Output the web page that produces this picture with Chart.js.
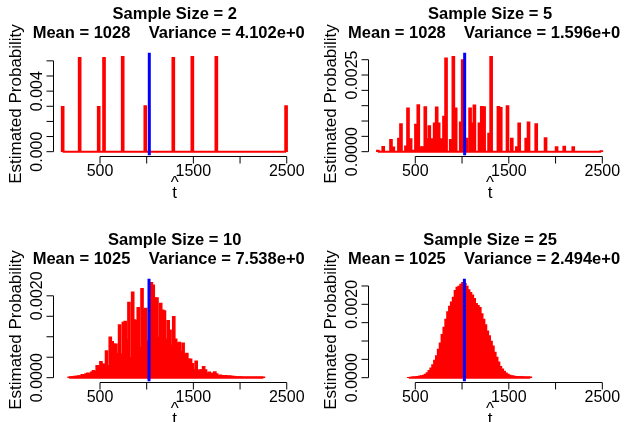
<!DOCTYPE html>
<html><head><meta charset="utf-8">
<script src="https://cdn.jsdelivr.net/npm/chart.js@4.4.1/dist/chart.umd.min.js"></script>
<style>
html,body{margin:0;padding:0;background:#fff;overflow:hidden;}
#wrap{position:relative;width:626px;height:422px;overflow:hidden;background:#fff;}
.p{position:absolute;width:313px;height:211px;}
canvas{display:block;}
</style></head><body>
<div id="wrap">
<div class="p" style="left:0;top:0"><canvas id="c1" width="313" height="211"></canvas></div>
<div class="p" style="left:313px;top:0"><canvas id="c2" width="313" height="211"></canvas></div>
<div class="p" style="left:0;top:226px"><canvas id="c3" width="313" height="211"></canvas></div>
<div class="p" style="left:313px;top:226px"><canvas id="c4" width="313" height="211"></canvas></div>
</div>
<script>
// ---------------- data ----------------
const sampleSizes = [2, 5, 10, 25];
const meanValues = [1028, 1028, 1025, 1025];
const meanTexts = ["1028", "1028", "1025", "1025"];
const varianceTexts = ["4.102e+0", "1.596e+0", "7.538e+0", "2.494e+0"];

const xTickValues = [500, 1000, 1500, 2000, 2500];
const xTickLabels = ["500", "", "1500", "", "2500"];

const yTicks1 = [0, 0.001, 0.002, 0.003, 0.004, 0.005, 0.006];
const yLabels1 = ["0.000", "", "", "", "0.004", "", ""];
const yTicks2 = [0, 0.0005, 0.001, 0.0015, 0.002, 0.0025, 0.003];
const yLabels2 = ["0.0000", "", "", "", "", "0.0025", ""];
const yTicks3 = [0, 0.0005, 0.001, 0.0015, 0.002];
const yLabels3 = ["0.0000", "", "", "", "0.0020"];
const yTicks4 = [0, 0.0005, 0.001, 0.0015, 0.002, 0.0025];
const yLabels4 = ["0.0000", "", "", "", "0.0020", ""];

// Sample size 2
const tHat2 = [100, 282, 486, 543, 743, 985, 1285, 1489, 1746, 2493];
const prob2 = [0.00299, 0.00624, 0.00299, 0.00624, 0.00630, 0.00304, 0.00624, 0.00630, 0.00630, 0.00304];

// Sample size 5
const tHat5 = [100, 157, 240, 265, 325, 347, 400, 422, 450, 482, 507, 532, 561, 586, 607, 629, 650, 682, 707, 729, 750, 782, 807, 829, 879, 907, 932, 986, 1007, 1050, 1086, 1115, 1132, 1186, 1211, 1236, 1289, 1311, 1389, 1414, 1486, 1532, 1586, 1611, 1686, 1711, 1793, 1893, 2011, 2093, 2189, 2489];
const prob5 = [0.00005, 0.000175, 0.0004, 0.00016, 0.00044, 0.00092, 0.00019, 0.00143, 0.00043, 0.00005, 0.0009, 0.00154, 0.00017, 0.00017, 0.00147, 0.00043, 0.00085, 0.00043, 0.00094, 0.00146, 0.00094, 0.00043, 0.00116, 0.00306, 0.0004, 0.00311, 0.00143, 0.00097, 0.0030, 0.00044, 0.00143, 0.00094, 0.00153, 0.00094, 0.00148, 0.00147, 0.00061, 0.00311, 0.00148, 0.00145, 0.0015, 0.00044, 0.00017, 0.00094, 0.00044, 0.00097, 0.00092, 0.00046, 0.00017, 0.00018, 0.00017, 0.00004];

// Sample size 10
const tHat10 = [170, 190, 210, 230, 250, 270, 290, 310, 330, 350, 370, 390, 410, 430, 450, 470, 490,
  510, 530, 550, 570, 590, 610, 630, 650, 670, 690, 710, 730, 750, 770, 790, 810, 830, 850, 870, 890, 910, 930, 950, 970, 990,
  1010, 1030, 1050, 1070, 1090, 1110, 1130, 1150, 1170, 1190, 1210, 1230, 1250, 1270, 1290, 1310, 1330, 1350, 1370, 1390,
  1410, 1430, 1450, 1470, 1490, 1510, 1530, 1550, 1570, 1590, 1610, 1630, 1650, 1670, 1690, 1710, 1730, 1750, 1770, 1790,
  1810, 1830, 1850, 1870, 1890, 1910, 1930, 1950, 1970, 1990, 2010, 2030, 2050, 2070, 2090, 2110, 2130, 2150, 2170, 2190,
  2210, 2230, 2250];
const prob10 = [0.00002, 0.00003, 0.00003, 0.00004, 0.00004, 0.00005, 0.00005, 0.00008, 0.00007, 0.0001, 0.00012, 0.0001, 0.00014, 0.00018, 0.00016, 0.0003, 0.00028,
  0.0004, 0.00034, 0.00033, 0.00066, 0.0003, 0.001, 0.00089, 0.00083, 0.00083, 0.0006, 0.0013, 0.00058, 0.00136, 0.00138, 0.00093, 0.00185, 0.0005, 0.0021, 0.00142, 0.0014, 0.00172, 0.00074, 0.00218, 0.00167, 0.0017,
  0.0009, 0.0008, 0.00233, 0.00227, 0.00196, 0.00196, 0.001, 0.00182, 0.00166, 0.00164, 0.00095, 0.0014, 0.00117, 0.0008, 0.0015, 0.00095, 0.00085, 0.00087, 0.00065, 0.00085,
  0.00057, 0.0006, 0.00046, 0.00046, 0.00035, 0.0002, 0.00041, 0.00016, 0.0002, 0.0002, 0.00028, 0.0002, 0.00012, 0.00014, 0.0001, 0.00012, 0.00015, 0.0001, 0.00006, 0.00007,
  0.00006, 0.00005, 0.00006, 0.00004, 0.00005, 0.00004, 0.00004, 0.00003, 0.00003, 0.00003, 0.00003, 0.00002, 0.00002, 0.00002, 0.00002, 0.00002, 0.00002, 0.00002, 0.00002, 0.00002,
  0.00002, 0.00002, 0.00002];

// Sample size 25
const tHat25 = [430, 450, 470, 490, 510, 530, 550, 570, 590, 610, 630, 650, 670, 690, 710, 730, 750, 770, 790, 810, 830, 850, 870, 890, 910, 930, 950, 970, 990,
  1010, 1030, 1050, 1070, 1090, 1110, 1130, 1150, 1170, 1190, 1210, 1230, 1250, 1270, 1290, 1310, 1330, 1350, 1370, 1390,
  1410, 1430, 1450, 1470, 1490, 1510, 1530, 1550, 1570, 1590, 1610, 1630, 1650, 1670, 1690, 1710, 1730];
const prob25 = [0.00001, 0.00001, 0.00002, 0.00002, 0.00003, 0.00004, 0.00005, 0.00006, 0.00007, 0.0001, 0.00014, 0.0002, 0.00027, 0.00036, 0.00048, 0.0006, 0.00078, 0.00095, 0.00118, 0.00138, 0.0016, 0.0018, 0.00195, 0.00207, 0.0022, 0.00238, 0.00247, 0.0025, 0.00255,
  0.0026, 0.00257, 0.0025, 0.0024, 0.00233, 0.00226, 0.00216, 0.00203, 0.00197, 0.00192, 0.00175, 0.0016, 0.00145, 0.00128, 0.00115, 0.001, 0.00087, 0.0007, 0.00056, 0.00043,
  0.00031, 0.00024, 0.00018, 0.00013, 0.0001, 0.00007, 0.00006, 0.00005, 0.00004, 0.00004, 0.00003, 0.00003, 0.00003, 0.00002, 0.00002, 0.00002, 0.00002];

// ---------------- drawing ----------------
const FONT = '"Liberation Sans", Arial, Helvetica, sans-serif';
const RED = '#FF0000', BLUE = '#0000FF';

function rDecor(idx, yTicks, yLabels) {
  return {
    id: 'rdecor' + idx,
    afterDraw(chart) {
      const ctx = chart.ctx, a = chart.chartArea, xs = chart.scales.x, ys = chart.scales.y;
      const cx = (a.left + a.right) / 2, cy = (a.top + a.bottom) / 2;
      ctx.save();
      ctx.fillStyle = '#000'; ctx.strokeStyle = '#000'; ctx.lineWidth = 1;
      // x axis
      const ay = Math.round(a.bottom) + 0.5;
      const xp = xTickValues.map(v => xs.getPixelForValue(v));
      ctx.beginPath();
      ctx.moveTo(xp[0], ay); ctx.lineTo(xp[xp.length - 1], ay);
      xp.forEach(px => { ctx.moveTo(px, ay); ctx.lineTo(px, ay + 7); });
      ctx.stroke();
      ctx.font = '16px ' + FONT; ctx.textAlign = 'center'; ctx.textBaseline = 'alphabetic';
      xTickLabels.forEach((t, i) => { if (t) ctx.fillText(t, xp[i], ay + 19); });
      // x label (t hat)
      ctx.font = '17px ' + FONT;
      ctx.fillText('^', cx, ay + 31.5);
      ctx.fillText('t', cx, ay + 41.5);
      // y axis
      const ax = Math.round(a.left) - 0.5;
      const yp = yTicks.map(v => ys.getPixelForValue(v));
      ctx.beginPath();
      ctx.moveTo(ax, yp[0]); ctx.lineTo(ax, yp[yp.length - 1]);
      yp.forEach(py => { ctx.moveTo(ax, py); ctx.lineTo(ax - 7, py); });
      ctx.stroke();
      ctx.font = '16px ' + FONT;
      yLabels.forEach((t, i) => {
        if (!t) return;
        ctx.save(); ctx.translate(ax - 11.5, yp[i]); ctx.rotate(-Math.PI / 2);
        ctx.textAlign = 'center'; ctx.fillText(t, 0, 0); ctx.restore();
      });
      // y label
      ctx.font = '17px ' + FONT;
      ctx.save(); ctx.translate(ax - 32.5, cy); ctx.rotate(-Math.PI / 2);
      ctx.textAlign = 'center'; ctx.fillText('Estimated Probability', 0, 0); ctx.restore();
      // titles
      ctx.font = 'bold 16.5px ' + FONT;
      ctx.textAlign = 'center';
      ctx.fillText('Sample Size = ' + sampleSizes[idx], cx, 18.5);
      ctx.textAlign = 'left';
      ctx.fillText('Mean = ' + meanTexts[idx] + '    Variance = ' + varianceTexts[idx], cx - 142, 37.8);
      ctx.restore();
    }
  };
}

function makeChart(id, idx, xv, yv, yTicks, yLabels, padLeft, padRight) {
  const ymaxData = Math.max(...yv);
  const yMin = -0.04 * ymaxData, yMax = 1.04 * ymaxData;
  const bars = xv.map((x, i) => ({ x: x, y: yv[i] }));
  const base = [{ x: xv[0], y: 0 }, { x: xv[xv.length - 1], y: 0 }];
  const meanLine = [{ x: meanValues[idx], y: yMin }, { x: meanValues[idx], y: yMax }];
  return new Chart(document.getElementById(id), {
    type: 'bar',
    data: {
      datasets: [
        { type: 'line', data: meanLine, borderColor: BLUE, borderWidth: 3, pointRadius: 0, order: 0, borderCapStyle: 'butt' },
        { type: 'line', data: base, borderColor: RED, borderWidth: 2, pointRadius: 0, order: 1 },
        { type: 'bar', data: bars, backgroundColor: RED, borderWidth: 0, barThickness: 3, order: 2 }
      ]
    },
    options: {
      responsive: false, animation: false, devicePixelRatio: 1,
      layout: { padding: { left: padLeft, right: padRight, top: 52.5, bottom: 55.5 } },
      plugins: { legend: { display: false }, tooltip: { enabled: false }, title: { display: false } },
      scales: {
        x: { type: 'linear', min: 4, max: 2596, display: false, offset: false },
        y: { type: 'linear', min: yMin, max: yMax, display: false }
      }
    },
    plugins: [rDecor(idx, yTicks, yLabels)]
  });
}

makeChart('c1', 0, tHat2, prob2, yTicks1, yLabels1, 53.7, 17.3);
makeChart('c2', 1, tHat5, prob5, yTicks2, yLabels2, 55.9, 14.7);
makeChart('c3', 2, tHat10, prob10, yTicks3, yLabels3, 53.7, 17.3);
makeChart('c4', 3, tHat25, prob25, yTicks4, yLabels4, 55.9, 14.7);
</script>
</body></html>
